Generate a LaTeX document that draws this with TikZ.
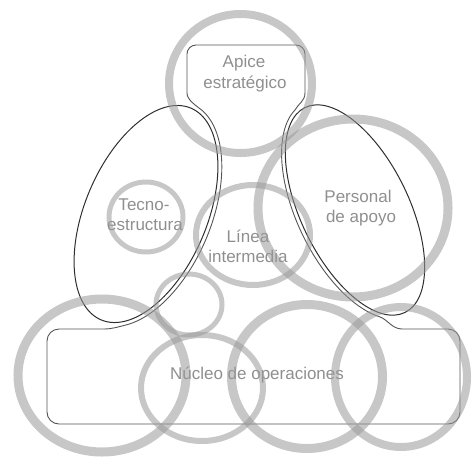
\documentclass[tikz,border=0pt]{standalone}
\usepackage{fontspec}
\setmainfont{Liberation Sans}
\definecolor{ringgray}{gray}{0.6}
\definecolor{boxline}{gray}{0.33}
\definecolor{ellline}{gray}{0.18}
\definecolor{txtgray}{gray}{0.56}
\begin{document}
\begin{tikzpicture}[x=1pt,y=-1pt,
  ring/.style={draw=ringgray, draw opacity=0.55},
  boxl/.style={draw=boxline, line width=0.9pt},
  elll/.style={draw=ellline, line width=1pt},
  lbl/.style={text=txtgray, font=\fontsize{17}{21}\selectfont, inner sep=0pt, anchor=base}]
\useasboundingbox (0,0) rectangle (473,461);
% apex box (top part)
\draw[boxl, rounded corners=9pt] (187,93) -- (187,45) -- (305,45) -- (305,93);
% bottom box (operating core)
\draw[boxl, rounded corners=12pt] (402,329) -- (460,329) -- (460,424) -- (47,424) -- (47,329) -- (104,329);
% left side of the middle line
\draw[boxl] (187,93) .. controls (187,100) and (196,105.5) .. (202.2,110.5)
  -- plot[domain=10:158, samples=50, smooth, variable=\t]
     ({146+119*cos(\t)*0.391+65*sin(\t)*0.921}, {214-119*cos(\t)*0.921+65*sin(\t)*0.391})
  .. controls (118.4,326.8) and (112,329) .. (104,329);
% right side of the middle line
\draw[boxl] (305,93) .. controls (305,101) and (298,104) .. (295.05,109.9)
  -- plot[domain=10:155, samples=50, smooth, variable=\t]
     ({355-118*cos(\t)*0.438-58*sin(\t)*0.899}, {210-118*cos(\t)*0.899+58*sin(\t)*0.438})
  .. controls (387,319) and (392,329) .. (402,329);
% technostructure and support staff
\draw[elll, rotate around={67:(146,214)}] (146,214) ellipse [x radius=115, y radius=61];
\draw[elll, rotate around={-64:(355,210)}] (355,210) ellipse [x radius=114, y radius=54];
% labels
\node[lbl] (t1) at (244,67) {Apice};
\node[lbl] (t2) at (245,88) {estratégico};
\node[lbl] (t3) at (144,210) {Tecno-};
\node[lbl] (t4) at (145,230) {estructura};
\node[lbl] (t5) at (248,242) {Línea};
\node[lbl] (t6) at (248,262) {intermedia};
\node[lbl] (t7) at (358,202) {Personal};
\node[lbl] (t8) at (361,222) {de apoyo};
\node[lbl] (t9) at (257,379) {Núcleo de operaciones};
% grey rings
\draw[ring, line width=8pt] (240.5,83.5) ellipse [x radius=71.5, y radius=69.5];
\draw[ring, line width=5pt] (146,217) ellipse [x radius=37, y radius=35];
\draw[ring, line width=9pt] (353,208) ellipse [x radius=95, y radius=89];
\draw[ring, line width=6pt] (253,235) ellipse [x radius=57, y radius=50];
\draw[ring, line width=5pt] (189,304.5) ellipse [x radius=33, y radius=30.5];
\draw[ring, line width=9pt] (102,375.5) ellipse [x radius=84, y radius=76.5];
\draw[ring, line width=6pt] (202,388) ellipse [x radius=61, y radius=53];
\draw[ring, line width=9pt] (307,376.5) ellipse [x radius=75.5, y radius=72];
\draw[ring, line width=8pt] (401,377) ellipse [x radius=66, y radius=70];
\end{tikzpicture}
\end{document}
